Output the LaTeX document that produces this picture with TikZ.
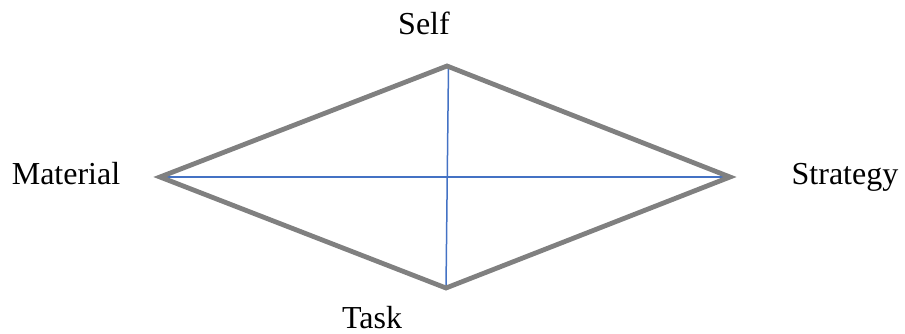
\documentclass[tikz,border=0pt]{standalone}
\usepackage{fontspec}
\setmainfont{Liberation Serif}
\definecolor{edgegray}{HTML}{808080}
\definecolor{axisblue}{HTML}{4472C4}
\begin{document}
\begin{tikzpicture}[x=1pt,y=-1pt,
  rim/.style={draw=edgegray,line width=4.8pt,line join=miter},
  axis/.style={draw=axisblue,line width=1.5pt},
  lbl/.style={font=\fontsize{32}{38}\selectfont,inner sep=0pt,anchor=base}]
\useasboundingbox (0,0) rectangle (905,334);
\coordinate (T) at (447,66);
\coordinate (B) at (446,288);
\coordinate (L) at (160,177);
\coordinate (R) at (730,177);
\draw[axis] (L) -- (R);
\draw[axis] ([xshift=1.5pt]T) -- (B);
\draw[rim] (T) -- (R) -- (B) -- (L) -- cycle;
\node[lbl] (self) at (424,35) {Self};
\node[lbl] (mat) at (66,184) {Material};
\node[lbl] (str) at (845,184) {Strategy};
\node[lbl] (task) at (372,328) {Task};
\end{tikzpicture}
\end{document}
